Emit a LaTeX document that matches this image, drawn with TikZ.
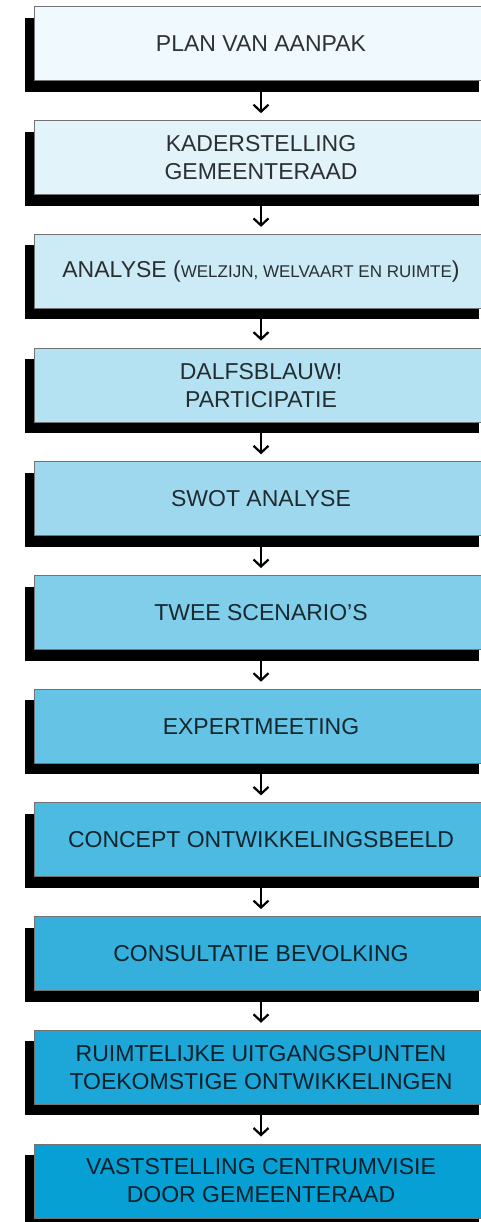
\documentclass[tikz,border=0pt]{standalone}
\usepackage{fontspec}
\setmainfont{Liberation Sans}
\usetikzlibrary{shadows,arrows.meta}
\definecolor{blauw1}{HTML}{F0F9FD}
\definecolor{blauw2}{HTML}{E2F3FA}
\definecolor{blauw3}{HTML}{CDEBF6}
\definecolor{blauw4}{HTML}{B4E2F3}
\definecolor{blauw5}{HTML}{9DD8EE}
\definecolor{blauw6}{HTML}{80CEE9}
\definecolor{blauw7}{HTML}{65C3E5}
\definecolor{blauw8}{HTML}{4DBAE1}
\definecolor{blauw9}{HTML}{35AFDB}
\definecolor{blauw10}{HTML}{1DA6D8}
\definecolor{blauw11}{HTML}{06A0D4}
\tikzset{
  stap/.style={draw=black!55, line width=1pt, minimum width=454pt, minimum height=74pt,
    inner sep=0pt, align=center, text=black, text opacity=0.8,
    font=\fontsize{23}{28}\selectfont,
    drop shadow={shadow xshift=-9pt, shadow yshift=-11pt, fill=black, opacity=1}},
  pijl/.style={-{Straight Barb[length=7pt,width=15pt]}, line width=2.2pt, shorten >=7pt}
}
\begin{document}
\begin{tikzpicture}[x=1pt,y=-1pt]
    \useasboundingbox (0,0) rectangle (481,1222);
    \node[stap, fill=blauw1] (plan) at (261,44) {PLAN VAN AANPAK};
    \node[stap, fill=blauw2] (kader) at (261,157.7) {KADERSTELLING\\GEMEENTERAAD};
    \node[stap, fill=blauw3] (analyse) at (261,271.4) {ANALYSE ({\fontsize{17}{20}\selectfont WELZIJN, WELVAART EN RUIMTE})};
    \node[stap, fill=blauw4] (dalfs) at (261,385.1) {DALFSBLAUW!\\PARTICIPATIE};
    \node[stap, fill=blauw5] (swot) at (261,498.8) {SWOT ANALYSE};
    \node[stap, fill=blauw6] (scenario) at (261,612.5) {TWEE SCENARIO'S};
    \node[stap, fill=blauw7] (expert) at (261,726.2) {EXPERTMEETING};
    \node[stap, fill=blauw8] (concept) at (261,839.9) {CONCEPT ONTWIKKELINGSBEELD};
    \node[stap, fill=blauw9] (consult) at (261,953.6) {CONSULTATIE BEVOLKING};
    \node[stap, fill=blauw10] (ruimte) at (261,1067.3) {RUIMTELIJKE UITGANGSPUNTEN\\TOEKOMSTIGE ONTWIKKELINGEN};
    \node[stap, fill=blauw11] (vaststel) at (261,1181) {VASTSTELLING CENTRUMVISIE\\DOOR GEMEENTERAAD};
    \draw[pijl] (plan.south) -- (kader.north);
    \draw[pijl] (kader.south) -- (analyse.north);
    \draw[pijl] (analyse.south) -- (dalfs.north);
    \draw[pijl] (dalfs.south) -- (swot.north);
    \draw[pijl] (swot.south) -- (scenario.north);
    \draw[pijl] (scenario.south) -- (expert.north);
    \draw[pijl] (expert.south) -- (concept.north);
    \draw[pijl] (concept.south) -- (consult.north);
    \draw[pijl] (consult.south) -- (ruimte.north);
    \draw[pijl] (ruimte.south) -- (vaststel.north);
  \end{tikzpicture}
\end{document}
